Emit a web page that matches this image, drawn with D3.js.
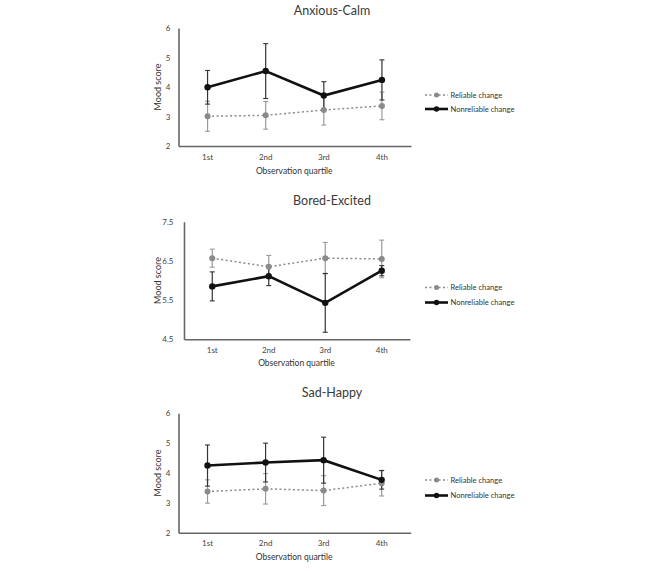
<!DOCTYPE html>
<html><head><meta charset="utf-8">
<script src="https://cdn.jsdelivr.net/npm/d3@7"></script>
<style>body{margin:0;background:#fff;} svg{display:block;}</style>
</head><body>
<svg id="chart" width="666" height="571"></svg>
<script>
const categories = ["1st","2nd","3rd","4th"];
const seriesNames = ["Reliable change","Nonreliable change"];
const titles = ["Anxious-Calm","Bored-Excited","Sad-Happy"];
const yTicks1 = [2,3,4,5,6];
const yTicks2 = [4.5,5.5,6.5,7.5];
const yTicks3 = [2,3,4,5,6];
// Anxious-Calm
const calmReliable = [3.01,3.04,3.22,3.36];
const calmReliableErr = [0.51,0.47,0.51,0.47];
const calmNonreliable = [3.99,4.54,3.71,4.24];
const calmNonreliableErr = [0.57,0.93,0.47,0.68];
// Bored-Excited
const excitedReliable = [6.57,6.35,6.57,6.55];
const excitedReliableErr = [0.23,0.29,0.40,0.48];
const excitedNonreliable = [5.85,6.11,5.43,6.25];
const excitedNonreliableErr = [0.37,0.24,0.75,0.13];
// Sad-Happy
const happyReliable = [3.38,3.47,3.41,3.66];
const happyReliableErr = [0.39,0.51,0.50,0.43];
const happyNonreliable = [4.25,4.35,4.43,3.77];
const happyNonreliableErr = [0.69,0.65,0.77,0.31];

const panels = [
  {title:titles[0], ticks:yTicks1, rel:calmReliable, relE:calmReliableErr, non:calmNonreliable, nonE:calmNonreliableErr,
   x0:178.5, x1:411, yT:28, yB:146, titleY:14.5, tickY:160, xlabY:174, legY:[95,109], tickRight:170.5},
  {title:titles[1], ticks:yTicks2, rel:excitedReliable, relE:excitedReliableErr, non:excitedNonreliable, nonE:excitedNonreliableErr,
   x0:184, x1:410, yT:221.7, yB:339.3, titleY:205, tickY:353, xlabY:366, legY:[287.5,302.5], tickRight:173.5},
  {title:titles[2], ticks:yTicks3, rel:happyReliable, relE:happyReliableErr, non:happyNonreliable, nonE:happyNonreliableErr,
   x0:178.5, x1:410.7, yT:413.3, yB:532.7, titleY:397, tickY:546.5, xlabY:560, legY:[480,495.5], tickRight:170.5}
];

const font = "Lato, 'Open Sans', sans-serif";
const svg = d3.select("#chart");

panels.forEach(p => {
  const g = svg.append("g");
  const x = d3.scaleBand().domain(categories).range([p.x0, p.x1]);
  const y = d3.scaleLinear().domain([p.ticks[0], p.ticks[p.ticks.length-1]]).range([p.yB, p.yT]);
  const cx = d => x(d) + x.bandwidth()/2;

  // title
  g.append("text").attr("x", 332).attr("y", p.titleY).attr("text-anchor","middle")
    .attr("font-family", font).attr("font-size", 12.5).attr("font-weight", 400).attr("fill","#3a3a3a").text(p.title);

  // axes
  const xAxis = d3.axisBottom(x).tickSize(0).tickPadding(0);
  const xg = g.append("g").attr("transform", `translate(0,${p.yB})`).call(xAxis);
  xg.select(".domain").attr("stroke","#666").attr("stroke-width",1.6);
  xg.selectAll("text").attr("font-family", font).attr("font-size", 8).attr("fill","#444")
    .attr("dy", null).attr("y", p.tickY - p.yB);

  const yAxis = d3.axisLeft(y).tickValues(p.ticks).tickSize(0).tickPadding(0).tickFormat(d3.format("~g"));
  const yg = g.append("g").attr("transform", `translate(${p.x0},0)`).call(yAxis);
  yg.select(".domain").attr("stroke","#666").attr("stroke-width",1.6);
  yg.selectAll("text").attr("font-family", font).attr("font-size", 8).attr("fill","#444")
    .attr("x", p.tickRight - p.x0);

  // axis titles
  g.append("text").attr("x", (p.x0+p.x1)/2 - 0.5).attr("y", p.xlabY).attr("text-anchor","middle")
    .attr("font-family", font).attr("font-size", 8.5).attr("fill","#333").text("Observation quartile");
  g.append("text").attr("transform", `translate(161,${(p.yT+p.yB)/2}) rotate(-90)`).attr("text-anchor","middle")
    .attr("font-family", font).attr("font-size", 9).attr("fill","#333").text("Mood score");

  const series = [
    {vals:p.rel, errs:p.relE, color:"#8a8a8a", errColor:"#9a9a9a", width:1.5, dash:"2,2.5", r:3},
    {vals:p.non, errs:p.nonE, color:"#111", errColor:"#333", width:2.6, dash:null, r:3.2}
  ];

  series.forEach(s => {
    const eb = g.append("g");
    categories.forEach((c,i) => {
      const v = s.vals[i], e = s.errs[i];
      eb.append("line").attr("x1",cx(c)).attr("x2",cx(c)).attr("y1",y(v-e)).attr("y2",y(v+e))
        .attr("stroke",s.errColor).attr("stroke-width",1.2);
      [v-e, v+e].forEach(t => eb.append("line").attr("x1",cx(c)-2.5).attr("x2",cx(c)+2.5)
        .attr("y1",y(t)).attr("y2",y(t)).attr("stroke",s.errColor).attr("stroke-width",1.1));
    });
  });
  series.forEach(s => {
    const line = d3.line().x((d,i)=>cx(categories[i])).y(d=>y(d));
    g.append("path").datum(s.vals).attr("d", line).attr("fill","none")
      .attr("stroke", s.color).attr("stroke-width", s.width).attr("stroke-dasharray", s.dash);
    g.selectAll(null).data(s.vals).enter().append("circle")
      .attr("cx",(d,i)=>cx(categories[i])).attr("cy",d=>y(d)).attr("r",s.r).attr("fill",s.color);
  });

  // legend
  series.forEach((s,k) => {
    const ly = p.legY[k];
    g.append("line").attr("x1",425).attr("x2",448).attr("y1",ly).attr("y2",ly)
      .attr("stroke",s.color).attr("stroke-width",s.width).attr("stroke-dasharray",s.dash);
    g.append("circle").attr("cx",436.5).attr("cy",ly).attr("r",s.r-0.5).attr("fill",s.color);
    g.append("text").attr("x",450.5).attr("y",ly+2.7).attr("font-family",font).attr("font-size",7.6)
      .attr("fill","#333").text(seriesNames[k]);
  });
});
</script>
</body></html>
